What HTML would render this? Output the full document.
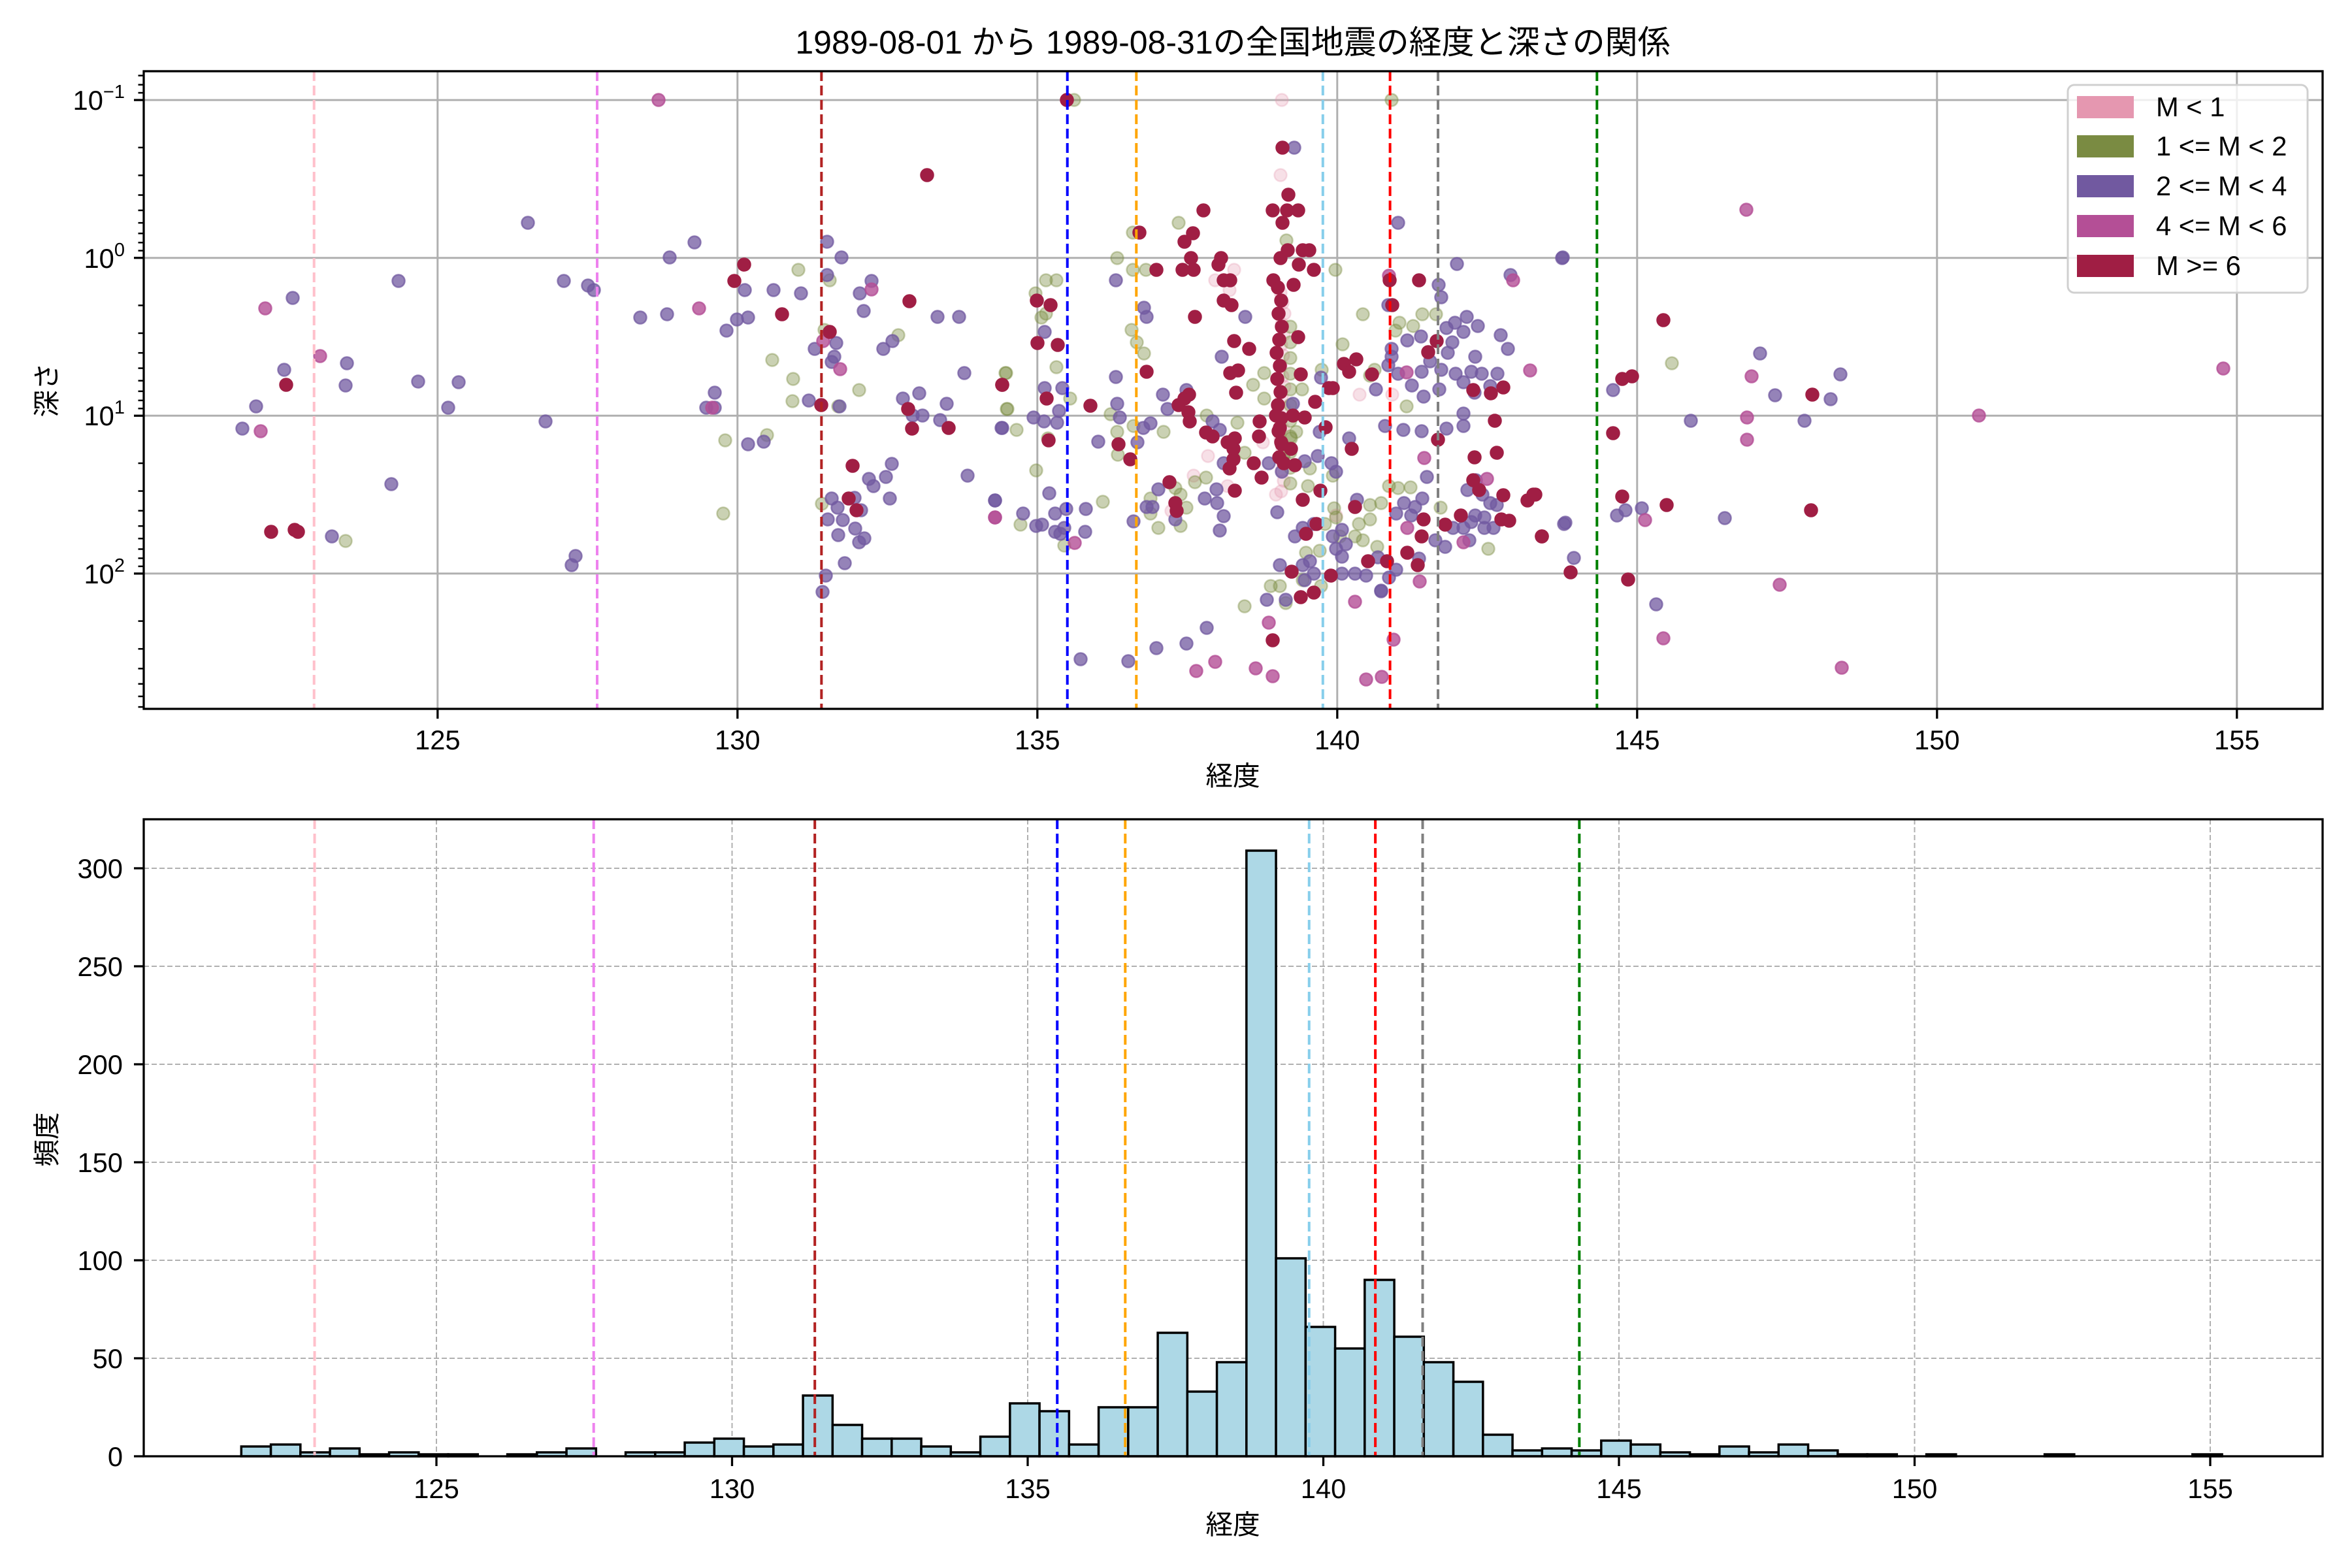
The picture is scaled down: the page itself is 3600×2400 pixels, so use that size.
<!DOCTYPE html>
<html><head><meta charset="utf-8"><style>
html,body{margin:0;padding:0;background:#fff;}
svg{display:block;}
text{font-family:"Liberation Sans","Noto Sans CJK JP",sans-serif;fill:#000;}
.tk{font-size:41.7px;}
</style></head><body>
<svg id="s" width="3600" height="2400" viewBox="0 0 3600 2400" xmlns="http://www.w3.org/2000/svg">
<rect width="3600" height="2400" fill="#fff"/>
<g id="topgrid" stroke="#b0b0b0" stroke-width="3">
<line x1="669.8" y1="109" x2="669.8" y2="1085"/><line x1="1128.8" y1="109" x2="1128.8" y2="1085"/><line x1="1587.8" y1="109" x2="1587.8" y2="1085"/><line x1="2046.8" y1="109" x2="2046.8" y2="1085"/><line x1="2505.8" y1="109" x2="2505.8" y2="1085"/><line x1="2964.8" y1="109" x2="2964.8" y2="1085"/><line x1="3423.8" y1="109" x2="3423.8" y2="1085"/>
<line x1="220" y1="153.1" x2="3555" y2="153.1"/><line x1="220" y1="394.7" x2="3555" y2="394.7"/><line x1="220" y1="636.3" x2="3555" y2="636.3"/><line x1="220" y1="877.9" x2="3555" y2="877.9"/>
</g>
<g id="pts"></g>
<g id="topv" stroke-width="4" stroke-dasharray="15,7" fill="none"></g>
<rect x="220" y="109" width="3335" height="976" fill="none" stroke="#000" stroke-width="3.3"/>
<g id="topticks" stroke="#000"></g>
<g class="tk" text-anchor="middle">
<text x="669.8" y="1147">125</text><text x="1128.8" y="1147">130</text><text x="1587.8" y="1147">135</text><text x="2046.8" y="1147">140</text><text x="2505.8" y="1147">145</text><text x="2964.8" y="1147">150</text><text x="3423.8" y="1147">155</text>
</g>
<g class="tk" text-anchor="end">
<text x="191" y="168">10<tspan font-size="29" dy="-18">−1</tspan></text>
<text x="191" y="410">10<tspan font-size="29" dy="-18">0</tspan></text>
<text x="191" y="651">10<tspan font-size="29" dy="-18">1</tspan></text>
<text x="191" y="893">10<tspan font-size="29" dy="-18">2</tspan></text>
</g>
<text class="tk" x="1887" y="1202" text-anchor="middle">経度</text>
<text class="tk" x="0" y="0" text-anchor="middle" transform="translate(86,597) rotate(-90)">深さ</text>
<text x="1887" y="82" text-anchor="middle" font-size="50">1989-08-01 から 1989-08-31の全国地震の経度と深さの関係</text>
<rect x="3165" y="130" width="367" height="318" rx="10" fill="#fff" fill-opacity="0.8" stroke="#d0d0d0" stroke-width="3"/>
<rect x="3179" y="147" width="87" height="34" fill="#e597b0"/>
<rect x="3179" y="207" width="87" height="34" fill="#7a8b42"/>
<rect x="3179" y="268" width="87" height="34" fill="#7159a0"/>
<rect x="3179" y="329" width="87" height="34" fill="#b44f96"/>
<rect x="3179" y="390" width="87" height="34" fill="#a01e44"/>
<g class="tk"><text x="3300" y="178">M &lt; 1</text><text x="3300" y="238">1 &lt;= M &lt; 2</text><text x="3300" y="299">2 &lt;= M &lt; 4</text><text x="3300" y="360">4 &lt;= M &lt; 6</text><text x="3300" y="421">M &gt;= 6</text></g>

<g id="botgrid" stroke="#b0b0b0" stroke-width="2" stroke-dasharray="8,4">
<line x1="668" y1="1254" x2="668" y2="2229"/><line x1="1120.5" y1="1254" x2="1120.5" y2="2229"/><line x1="1573" y1="1254" x2="1573" y2="2229"/><line x1="2025.5" y1="1254" x2="2025.5" y2="2229"/><line x1="2478" y1="1254" x2="2478" y2="2229"/><line x1="2930.5" y1="1254" x2="2930.5" y2="2229"/><line x1="3383" y1="1254" x2="3383" y2="2229"/>
<line x1="220" y1="2079" x2="3555" y2="2079"/><line x1="220" y1="1929" x2="3555" y2="1929"/><line x1="220" y1="1779" x2="3555" y2="1779"/><line x1="220" y1="1629" x2="3555" y2="1629"/><line x1="220" y1="1479" x2="3555" y2="1479"/><line x1="220" y1="1329" x2="3555" y2="1329"/>
</g>
<g id="bars" fill="#add8e6" stroke="#000" stroke-width="3.5"></g>
<g id="botv" stroke-width="4" stroke-dasharray="15,7" fill="none"></g>
<rect x="220" y="1254" width="3335" height="975" fill="none" stroke="#000" stroke-width="3.3"/>
<g stroke="#000" stroke-width="3.3">
<line x1="668" y1="2229" x2="668" y2="2244"/><line x1="1120.5" y1="2229" x2="1120.5" y2="2244"/><line x1="1573" y1="2229" x2="1573" y2="2244"/><line x1="2025.5" y1="2229" x2="2025.5" y2="2244"/><line x1="2478" y1="2229" x2="2478" y2="2244"/><line x1="2930.5" y1="2229" x2="2930.5" y2="2244"/><line x1="3383" y1="2229" x2="3383" y2="2244"/>
<line x1="205" y1="2229" x2="220" y2="2229"/><line x1="205" y1="2079" x2="220" y2="2079"/><line x1="205" y1="1929" x2="220" y2="1929"/><line x1="205" y1="1779" x2="220" y2="1779"/><line x1="205" y1="1629" x2="220" y2="1629"/><line x1="205" y1="1479" x2="220" y2="1479"/><line x1="205" y1="1329" x2="220" y2="1329"/>
</g>
<g class="tk" text-anchor="middle">
<text x="668" y="2293">125</text><text x="1120.5" y="2293">130</text><text x="1573" y="2293">135</text><text x="2025.5" y="2293">140</text><text x="2478" y="2293">145</text><text x="2930.5" y="2293">150</text><text x="3383" y="2293">155</text>
</g>
<g class="tk" text-anchor="end">
<text x="188" y="2244">0</text><text x="188" y="2094">50</text><text x="188" y="1944">100</text><text x="188" y="1794">150</text><text x="188" y="1644">200</text><text x="188" y="1494">250</text><text x="188" y="1344">300</text>
</g>
<text class="tk" x="1887" y="2348" text-anchor="middle">経度</text>
<text class="tk" x="0" y="0" text-anchor="middle" transform="translate(86,1744) rotate(-90)">頻度</text>
</svg>
<script>
var NS="http://www.w3.org/2000/svg";
function el(p,t,a){var e=document.createElementNS(NS,t);for(var k in a)e.setAttribute(k,a[k]);p.appendChild(e);return e;}
var vl=[[122.94,"#ffc0cb"],[127.66,"#ee82ee"],[131.4,"#b22222"],[135.5,"#0000ff"],[136.65,"#ffa500"],[139.76,"#87ceeb"],[140.88,"#ff0000"],[141.68,"#808080"],[144.33,"#008000"]];
var tv=document.getElementById("topv"),bv=document.getElementById("botv");
vl.forEach(function(v){var x=220+(v[0]-120.1)*91.8;el(tv,"line",{x1:x,y1:109,x2:x,y2:1085,stroke:v[1]});
var x2=220+(v[0]-120.05)*90.5;el(bv,"line",{x1:x2,y1:1254,x2:x2,y2:2229,stroke:v[1]});});
var tt=document.getElementById("topticks");
[125,130,135,140,145,150,155].forEach(function(l){var x=220+(l-120.1)*91.8;el(tt,"line",{x1:x,y1:1085,x2:x,y2:1100,"stroke-width":3.3});});
for(var d=-2;d<=3;d++){for(var m=1;m<10;m++){var y=394.7+241.6*(d+Math.log10(m));if(y<110||y>1084)continue;
if(m==1)el(tt,"line",{x1:205,y1:y,x2:220,y2:y,"stroke-width":3.3});else el(tt,"line",{x1:211.5,y1:y,x2:220,y2:y,"stroke-width":2.5});}}
var H=[5,6,2,4,1,2,1,1,0,1,2,4,0,2,2,7,9,5,6,31,16,9,9,5,2,10,27,23,6,25,25,63,33,48,309,101,66,55,90,61,48,38,11,3,4,3,8,6,2,1,5,2,6,3,1,1,0,1,0,0,0,1,0,0,0,0,1];
var bg=document.getElementById("bars");
H.forEach(function(h,k){if(h==0)return;var x=220+(121.7+0.5*k-120.05)*90.5;el(bg,"rect",{x:x,y:2229-3*h,width:45.25,height:3*h});});
var P=[[1008,153,3],[808,341,2],[1063,371,2],[1025,394,2],[1139,405,4],[610,430,2],[863,430,2],[900,437,2],[909,444,2],[1124,430,4],[1140,444,2],[1184,444,2],[448,456,2],[406,472,3],[1070,472,3],[1197,481,4],[980,486,2],[1021,481,2],[1128,489,2],[1145,486,2],[1112,506,2],[490,545,3],[1182,551,1],[531,556,2],[435,566,2],[438,589,4],[529,590,2],[640,584,2],[702,585,2],[1094,601,2],[392,622,2],[686,624,2],[1081,624,2],[1094,624,2],[1090,624,3],[835,645,2],[371,656,2],[399,660,3],[1110,674,1],[1174,666,1],[1145,680,2],[1169,676,2],[599,741,2],[1107,786,1],[415,814,4],[451,811,4],[456,814,4],[508,821,2],[529,828,1],[881,851,2],[875,865,2],
[1419,268,4],[1266,370,2],[1288,394,2],[1222,413,1],[1266,421,2],[1270,429,1],[1334,430,2],[1334,443,3],[1226,449,2],[1316,449,2],[1392,461,4],[1322,476,2],[1435,485,2],[1468,485,2],[1262,505,1],[1270,508,4],[1375,513,1],[1366,522,2],[1352,534,2],[1260,522,3],[1280,525,2],[1247,534,2],[1277,546,2],[1273,554,2],[1286,565,3],[1214,580,1],[1476,571,2],[1539,571,1],[1534,589,4],[1315,597,1],[1382,610,2],[1407,602,2],[1213,614,1],[1238,613,2],[1257,620,4],[1283,622,1],[1285,622,2],[1449,618,2],[1390,626,4],[1412,636,2],[1397,636,2],[1439,643,2],[1396,656,4],[1452,655,4],[1534,655,2],[1541,626,1],[1305,713,4],[1365,710,2],[1356,730,2],[1330,733,2],[1337,744,2],[1481,728,2],[1299,763,4],[1308,762,2],[1362,763,2],[1258,771,1],[1273,763,2],[1282,777,2],[1311,781,4],[1318,781,2],[1267,795,2],[1290,796,2],[1309,809,2],[1283,819,2],[1315,830,2],[1323,824,2],[1523,766,2],[1523,792,3],[1293,862,2],[1264,881,2],[1259,906,2],
[1633,153,4],[1644,153,1],[1962,153,0],[2130,153,1],[1963,226,4],[1981,226,2],[1960,268,0],[1972,298,4],[1842,322,4],[1948,322,4],[1987,322,4],[1970,322,4],[1963,341,4],[2140,341,2],[1804,341,1],[1734,356,1],[1744,356,4],[1826,357,4],[1813,370,4],[1969,368,1],[1971,383,4],[1994,383,4],[2004,383,4],[1710,395,1],[1823,395,4],[1869,395,4],[1865,405,4],[1960,395,4],[1988,405,4],[1734,413,1],[1754,413,1],[1770,413,4],[1810,413,4],[1827,413,4],[1889,413,0],[2011,413,4],[2044,413,1],[2230,404,2],[1601,429,1],[1617,429,1],[1708,429,2],[1873,429,4],[1883,429,4],[1860,429,0],[1882,444,0],[1949,429,4],[1980,436,4],[2126,422,3],[2127,429,4],[2172,429,4],[2312,421,2],[2316,429,3],[2202,436,2],[1585,449,1],[1587,460,4],[1608,467,4],[2206,455,2],[1873,460,4],[1885,467,4],[1751,471,2],[1755,485,2],[1829,485,4],[1906,485,2],[1594,486,1],[1601,480,1],[2131,467,4],[2125,467,2],[2086,481,1],[2177,481,1],[2198,481,1],[2214,502,2],[2245,485,2],[2227,494,2],[2262,499,2],[2240,508,2],[2297,513,2],[2308,534,2],[2142,494,1],[2163,499,1],[2136,506,1],[2154,521,2],[2175,515,2],[2199,522,4],[2223,524,2],[2186,539,4],[2216,540,2],[1599,508,2],[1588,525,4],[1619,528,4],[1732,505,1],[1740,524,1],[1751,541,1],[1889,522,4],[1912,534,4],[1987,516,4],[1870,546,2],[1755,569,4],[2055,527,1],[2076,550,4],[2057,557,4],[2065,569,4],[2130,534,2],[2130,546,2],[2125,559,2],[2140,572,2],[2153,570,3],[2104,566,1],[2097,575,1],[2100,573,4],[2189,553,2],[2176,569,2],[2206,566,2],[2228,572,2],[2240,585,2],[2252,569,2],[2258,546,2],[2268,572,2],[2292,572,2],[2342,567,3],[1617,562,1],[1540,571,1],[1883,571,4],[1895,567,4],[1935,571,1],[1991,573,4],[1708,577,2],[1534,589,4],[1918,589,1],[2040,594,4],[2034,594,4],[2022,578,2],[2023,566,1],[2106,596,2],[2081,604,0],[2131,604,0],[2161,590,2],[2179,607,2],[2203,596,2],[2281,591,2],[2301,593,4],[2282,602,4],[2257,601,2],[2255,597,4],[1599,594,2],[1626,594,2],[1602,610,4],[1638,610,1],[1669,621,4],[1710,618,2],[1892,601,4],[1993,596,1],[1935,610,1],[1780,604,2],[1820,604,4],[1813,610,4],[1804,620,4],[1816,597,2],[1542,626,1],[2013,615,4],[1979,618,2],[2153,622,1],[2240,633,2],[1582,639,2],[1598,645,2],[1621,629,2],[1618,647,2],[1714,639,2],[1700,634,1],[1787,626,2],[1819,631,4],[1821,645,4],[1847,636,1],[1856,645,2],[1894,647,1],[1928,645,4],[1953,636,4],[1959,655,4],[1979,636,4],[1997,639,4],[2120,652,2],[2148,658,2],[2176,660,2],[2214,656,2],[2240,652,2],[2288,644,4],[1556,658,1],[1533,655,2],[1710,661,1],[1681,676,2],[1712,680,4],[1735,652,1],[1750,655,2],[1761,648,2],[1781,661,1],[1846,662,4],[1856,668,4],[1867,658,2],[1890,671,4],[1879,677,4],[1927,668,4],[1933,677,0],[1961,677,4],[1976,687,4],[1984,661,1],[1976,671,1],[2029,654,4],[2020,661,2],[2065,671,2],[2069,687,4],[2201,673,4],[1604,671,1],[1605,674,4],[1741,677,2],[1730,703,4],[1711,696,1],[1849,698,0],[1888,687,4],[1888,703,4],[1882,717,4],[1873,709,2],[1905,693,1],[1942,709,2],[1965,696,1],[1965,709,4],[1982,712,4],[1997,706,2],[2017,698,2],[2038,709,2],[2045,722,2],[2257,700,4],[2291,693,4],[2180,701,3],[1586,720,1],[1919,709,4],[1931,731,4],[1962,722,2],[2005,717,1],[2040,728,1],[2184,730,2],[2255,735,4],[2264,750,4],[2246,750,2],[2259,735,2],[2276,733,3],[2269,757,2],[2281,770,2],[2291,773,2],[2301,758,4],[2338,766,4],[2347,757,4],[1606,755,2],[1688,768,1],[1523,766,2],[1615,786,2],[1632,779,2],[1662,779,2],[1566,786,2],[1586,805,2],[1595,803,2],[1615,814,2],[1629,808,2],[1661,814,2],[1623,817,2],[1562,803,1],[1629,835,1],[1645,831,3],[1523,792,3],[1735,798,2],[1790,738,4],[1773,749,2],[1799,747,1],[1807,757,1],[1829,738,1],[1846,731,1],[1827,728,0],[1862,749,2],[1890,751,4],[1879,744,0],[1844,763,2],[1863,770,2],[1764,776,2],[1755,776,2],[1761,763,1],[1799,770,4],[1801,782,4],[1799,795,2],[1793,782,0],[1816,777,1],[1761,786,1],[1807,805,1],[1773,808,1],[1873,790,2],[1867,812,2],[1955,784,2],[1953,757,0],[1994,765,4],[2021,751,4],[2042,778,1],[2045,792,1],[2002,744,1],[2045,789,0],[2077,765,2],[2074,776,4],[2097,773,1],[2114,770,1],[2126,744,1],[2140,747,1],[2159,746,1],[2149,770,2],[2166,776,2],[2177,763,2],[2137,786,2],[2160,789,2],[2179,795,4],[2205,777,1],[2236,789,4],[2224,808,2],[2240,808,2],[2252,799,2],[2258,789,2],[2272,792,2],[2298,795,4],[2310,797,4],[2272,808,2],[2286,808,2],[2360,821,4],[2394,802,2],[2212,803,4],[2154,808,3],[2176,821,4],[2197,827,2],[2212,837,2],[2249,827,2],[2240,830,3],[2278,840,1],[2154,846,4],[2170,865,4],[2172,855,2],[2173,890,3],[2109,853,2],[2114,904,2],[2094,859,4],[2137,872,2],[2126,884,2],[2123,859,4],[2074,878,2],[2091,881,2],[2054,878,2],[2037,881,4],[2045,840,2],[2060,833,2],[2054,852,2],[2051,821,1],[2086,827,1],[2074,821,1],[2108,837,1],[2080,802,1],[2097,795,1],[2040,821,2],[2054,811,2],[2028,802,1],[1999,846,1],[2020,843,1],[1994,808,2],[2011,802,2],[1999,817,4],[2015,802,4],[1982,821,2],[2005,859,2],[1994,865,2],[2011,878,2],[1997,888,2],[1977,875,4],[1994,888,1],[2022,897,1],[1959,865,2],[1945,897,1],[1959,897,1],[2011,907,4],[1991,914,4],[1939,918,2],[1968,918,2],[1968,923,1],[1905,928,1],[2114,905,2],[2074,921,3],[1942,953,3],[1948,980,4],[2133,979,3],[1847,961,2],[1816,985,2],[1770,992,2],[1727,1012,2],[1654,1009,2],[1831,1027,3],[1860,1013,3],[1922,1023,3],[1948,1035,3],[2091,1040,3],[2115,1036,3],[2391,395,2],
[2392,394,2],[2673,321,3],[2546,490,4],[2559,556,1],[2694,541,2],[2483,580,4],[2498,576,4],[2681,576,3],[2817,573,2],[2469,597,2],[2717,605,2],[2774,604,4],[2802,611,2],[2588,644,2],[2674,639,3],[2762,644,2],[3029,636,3],[3403,564,3],[2674,673,3],[2469,663,4],[2350,757,4],[2483,760,4],[2551,773,4],[2488,781,2],[2475,789,2],[2513,778,2],[2518,796,3],[2640,793,2],[2772,781,4],[2396,800,2],[2360,821,4],[2409,854,2],[2404,876,4],[2492,887,4],[2724,895,3],[2535,925,2],[2546,977,3],[2819,1022,3]];
for(var y=440;y<=700;y+=20){P.push([1958+((y*7)%9)-4,y,4]);}
for(var y=448;y<=760;y+=16){P.push([1963+((y*5)%7)-3,y,0]);}
for(var y=500;y<=740;y+=24){P.push([1975,y,1]);}
var C=["#e597b0","#7a8b42","#7159a0","#b44f96","#a01e44"],A=[0.3,0.4,0.75,0.8,1];
var pg=document.getElementById("pts");
[0,1,2,3,4].forEach(function(c){P.forEach(function(p){if(p[2]!=c)return;
el(pg,"circle",{cx:p[0],cy:p[1],r:9.5,fill:C[c],"fill-opacity":A[c],stroke:C[c],"stroke-opacity":A[c],"stroke-width":2.5});});});
</script>
</body></html>
